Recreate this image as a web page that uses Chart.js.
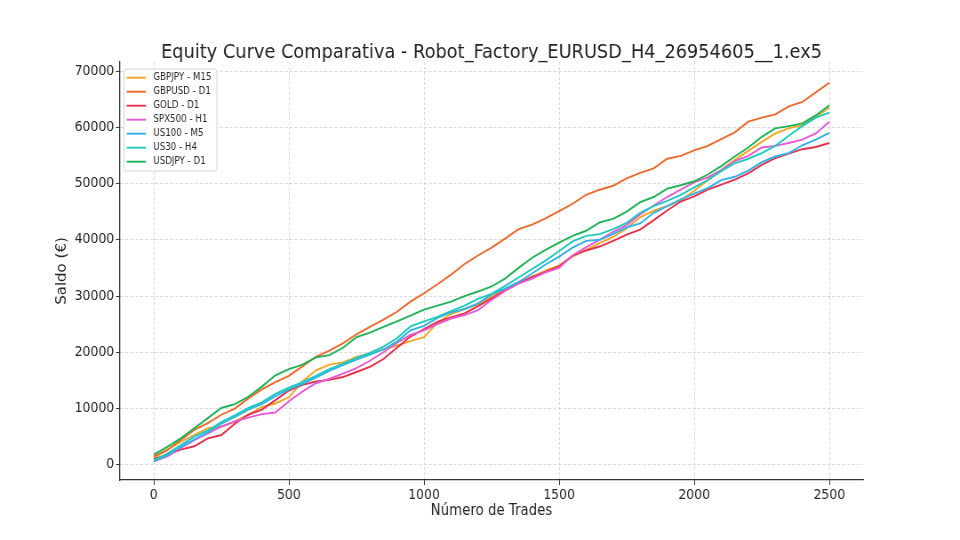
<!DOCTYPE html>
<html><head><meta charset="utf-8">
<script src="https://cdn.jsdelivr.net/npm/chart.js@4.4.0/dist/chart.umd.min.js"></script>
<style>html,body{margin:0;padding:0;background:#fff;overflow:hidden}#c{display:block;width:960px;height:540px}</style>
</head><body><canvas id="c" width="1080" height="540" style="width:960px;height:540px"></canvas>
<script>
const trades = [0,50,100,150,200,250,300,350,400,450,500,550,600,650,700,750,800,850,900,950,1000,1050,1100,1150,1200,1250,1300,1350,1400,1450,1500,1550,1600,1650,1700,1750,1800,1850,1900,1950,2000,2050,2100,2150,2200,2250,2300,2350,2400,2450,2500];
const seriesNames = ['GBPJPY - M15','GBPUSD - D1','GOLD - D1','SPX500 - H1','US100 - M5','US30 - H4','USDJPY - D1'];
const GBPJPY = [1200,2700,4100,5300,6500,6800,7700,8900,10300,10900,12000,14800,16800,17800,18200,19200,19800,20500,21200,22000,22700,25300,26800,27700,28500,29900,31100,32300,33400,34500,35400,37000,38200,39400,40500,42000,44000,45200,46000,47000,48700,50600,52400,54200,55800,57400,58900,59800,60400,61800,63500];
const GBPUSD = [1500,2600,4400,6200,7400,8900,10000,11800,13400,14700,15800,17500,19200,20300,21600,23200,24500,25800,27200,29000,30500,32100,33800,35700,37200,38600,40200,41900,42700,43800,45100,46400,48000,48900,49600,50900,51900,52700,54400,54900,55900,56700,57900,59100,61000,61700,62300,63700,64500,66200,67900];
const GOLD = [1000,1800,2700,3300,4700,5300,7300,8900,9800,11500,13200,14200,14800,15100,15600,16500,17400,18800,20800,22800,24100,25400,26200,26900,28200,29600,31000,32300,33400,34300,35300,37200,38100,38800,39800,40900,41800,43500,45200,46800,47700,48900,49800,50700,51800,53300,54500,55300,56100,56500,57200];
const SPX500 = [600,1500,3000,4400,5600,6800,7700,8400,9000,9300,11300,13000,14500,15300,16200,17200,18500,20000,21700,23100,23900,25000,26000,26600,27500,29300,30900,32200,33100,34200,35000,37200,38700,40000,41400,42600,44500,46100,47600,48900,50200,51100,52400,54000,54900,56400,56700,57200,57800,58900,61000];
const US100 = [600,1700,3200,4500,5800,7300,8500,9800,10800,12200,13400,14400,15500,16700,17700,18700,19600,20500,21900,23900,24700,26100,27100,27700,28700,30300,31300,32500,34000,35600,37000,38600,39800,40000,41000,42200,42900,44800,46000,47200,48200,49200,50600,51200,52300,53800,54800,55400,56800,57800,59000];
const US30 = [800,2000,3500,5000,6100,7600,8800,10100,11100,12600,13700,14700,15800,17000,18000,19000,19900,21000,22500,24600,25500,26300,27300,28300,29500,30400,31800,33300,34800,36300,38000,39700,40700,41000,41900,43000,44800,46000,46900,48000,49300,50600,52200,53600,54400,55400,56700,58500,60200,61700,62600];
const USDJPY = [1800,3200,4700,6500,8300,10100,10800,12100,13900,15900,17000,17800,19100,19500,20800,22700,23500,24500,25500,26500,27600,28300,29000,30000,30800,31700,33100,35000,36800,38200,39500,40700,41600,43100,43700,45000,46700,47600,49100,49700,50400,51600,53100,54800,56400,58300,59800,60200,60700,62100,63900];
const xTicks = [0,500,1000,1500,2000,2500];
const yTicks = [0,10000,20000,30000,40000,50000,60000,70000];
const chartTitle = 'Equity Curve Comparativa - Robot_Factory_EURUSD_H4_26954605__1.ex5';

const seriesValues = [GBPJPY,GBPUSD,GOLD,SPX500,US100,US30,USDJPY];
const colors = ['#f5a524','#ec6a2c','#e5304c','#e55bd3','#30b2e8','#1fc9bf','#1fb355'];

const datasets = seriesNames.map((name,i)=>({
  label: name,
  data: trades.map((t,j)=>({x:t,y:seriesValues[i][j]})),
  borderColor: colors[i],
  backgroundColor: colors[i],
  borderWidth: 1.9,
  pointRadius: 0,
  tension: 0,
  fill: false,
  order: seriesNames.length - 1 - i
}));

const titlePlugin = {
  id: 'centeredTitle',
  afterDraw(chart){
    const ctx = chart.ctx, a = chart.chartArea;
    ctx.save();
    ctx.fillStyle = '#222';
    ctx.font = '20px "DejaVu Sans"';
    ctx.textAlign = 'center'; ctx.textBaseline = 'alphabetic';
    ctx.fillText(chartTitle, (a.left + a.right)/2, 58.3);
    ctx.restore();
  }
};

const legendPlugin = {
  id: 'boxLegend',
  afterDatasetsDraw(chart){
    const ctx = chart.ctx;
    const x0 = 139.5, y0 = 69, w = 104.6, h = 102, r = 2.5;
    ctx.save();
    ctx.beginPath();
    ctx.moveTo(x0+r,y0); ctx.lineTo(x0+w-r,y0); ctx.arcTo(x0+w,y0,x0+w,y0+r,r);
    ctx.lineTo(x0+w,y0+h-r); ctx.arcTo(x0+w,y0+h,x0+w-r,y0+h,r);
    ctx.lineTo(x0+r,y0+h); ctx.arcTo(x0,y0+h,x0,y0+h-r,r);
    ctx.lineTo(x0,y0+r); ctx.arcTo(x0,y0,x0+r,y0,r); ctx.closePath();
    ctx.fillStyle = 'rgba(255,255,255,0.85)'; ctx.fill();
    ctx.strokeStyle = '#d4d4d4'; ctx.lineWidth = 1; ctx.stroke();
    chart.data.datasets.forEach((ds,i)=>{
      const yy = y0 + 8.7 + i*14;
      ctx.beginPath(); ctx.moveTo(x0+3,yy); ctx.lineTo(x0+24.8,yy);
      ctx.strokeStyle = ds.borderColor; ctx.lineWidth = 1.9; ctx.stroke();
      ctx.fillStyle = '#262626'; ctx.font = '9.8px "DejaVu Sans"';
      ctx.textBaseline = 'middle'; ctx.textAlign = 'left';
      ctx.fillText(ds.label, x0+33, yy);
    });
    ctx.restore();
  }
};

new Chart(document.getElementById('c'), {
  type: 'line',
  data: { datasets },
  plugins: [legendPlugin, titlePlugin],
  options: {
    responsive: false, animation: false, devicePixelRatio: 1,
    layout: { padding: { left: 0, right: 109, top: 62, bottom: 0 } },
    plugins: {
      legend: { display: false },
      tooltip: { enabled: false },
      title: { display: false }
    },
    scales: {
      x: { type: 'linear', min: -125, max: 2625,
        afterBuildTicks: a => { a.ticks = xTicks.map(v=>({value:v})); },
        afterFit: a => { a.height = 60; },
        grid: {color:'#cfcfcf', lineWidth:0.8, tickLength:5, tickColor:'#333', tickWidth:1},
        border: { display: true, color: '#333', width: 1.2, dash: [3,2] },
        ticks: { autoSkip:false, maxRotation:0, padding: 2, color:'#262626', font:{family:'DejaVu Sans', size:14}, callback: v => String(v) },
        title: { display: true, text: 'Número de Trades', color:'#262626', font:{family:'DejaVu Sans', size:15}, padding:{top:0,bottom:20} }
      },
      y: { type: 'linear', min: -2700, max: 71600,
        afterBuildTicks: a => { a.ticks = yTicks.map(v=>({value:v})); },
        afterFit: a => { a.width = 135; },
        grid: {color:'#cfcfcf', lineWidth:0.8, tickLength:4.5, tickColor:'#333', tickWidth:1},
        border: { display: true, color: '#333', width: 1.3, dash: [3.4,2.2] },
        ticks: { autoSkip:false, padding: 2, color:'#262626', font:{family:'DejaVu Sans', size:14}, callback: v => String(v) },
        title: { display: true, text: 'Saldo (€)', color:'#262626', font:{family:'DejaVu Sans', size:15}, padding:{top:60.75,bottom:0} }
      }
    }
  }
});
</script></body></html>
